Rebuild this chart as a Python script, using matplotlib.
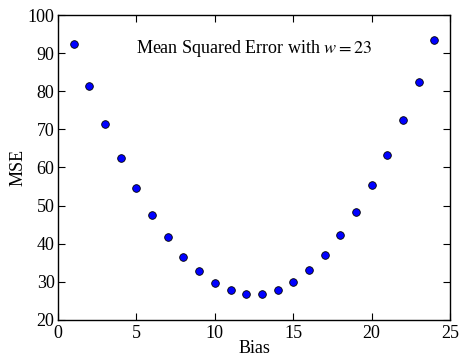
import matplotlib
matplotlib.use("Agg")
import matplotlib.pyplot as plt

bias = list(range(1, 25))
mse = [92.4, 81.4, 71.4, 62.5, 54.7, 47.6, 41.7, 36.6, 32.8, 29.8, 27.8, 26.8,
       26.9, 27.9, 30.0, 33.0, 37.1, 42.2, 48.2, 55.3, 63.2, 72.4, 82.4, 93.5]
xticks = [0, 5, 10, 15, 20, 25]
yticks = [20, 30, 40, 50, 60, 70, 80, 90, 100]

plt.rcParams['font.family'] = ['Liberation Serif', 'DejaVu Serif']
plt.rcParams['mathtext.fontset'] = 'stix'

fig = plt.figure(figsize=(4.61, 3.59), dpi=100)
ax = fig.add_axes([0.126, 0.109, 0.850, 0.849])
ax.plot(bias, mse, 'o', color='#0000ff', markeredgecolor='black',
        markeredgewidth=0.6, markersize=5.5, linestyle='none')
ax.set_xlim(0, 25)
ax.set_ylim(20, 100)
ax.set_xticks(xticks)
ax.set_yticks(yticks)
ax.tick_params(direction='in', top=True, right=True, length=5, width=0.8,
               labelsize=13)
ax.tick_params(axis='y', pad=2.5)
ax.tick_params(axis='x', pad=3.5)
for s in ax.spines.values():
    s.set_linewidth(1.0)
ax.set_xlabel('Bias', fontsize=13, labelpad=-1.5)
ax.set_ylabel('MSE', fontsize=13, labelpad=1)
ax.text(0.5, 0.89, 'Mean Squared Error with $w = 23$', transform=ax.transAxes,
        ha='center', va='center', fontsize=13)
fig.savefig('out.png', dpi=100)
